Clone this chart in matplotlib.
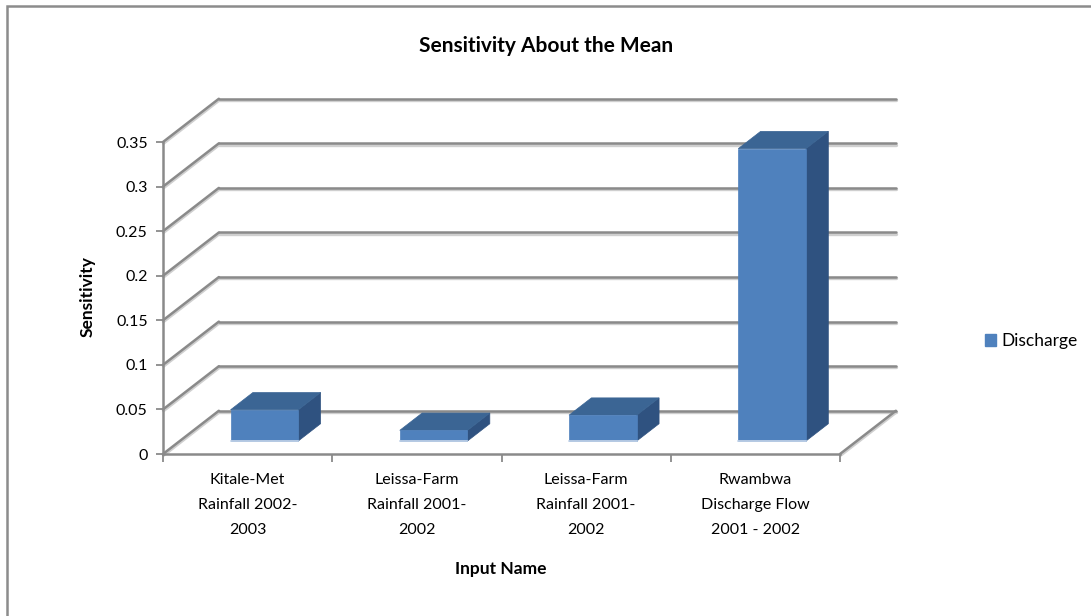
import numpy as np
import matplotlib.pyplot as plt
import matplotlib.transforms as mtransforms
from matplotlib.patches import Polygon, Patch, Rectangle

# chart data
categories = ['Kitale-Met\nRainfall 2002-\n2003',
              'Leissa-Farm\nRainfall 2001-\n2002',
              'Leissa-Farm\nRainfall 2001-\n2002',
              'Rwambwa\nDischarge Flow\n2001 - 2002']
sensitivity = [0.035, 0.012, 0.029, 0.328]
y_ticks = [0, 0.05, 0.1, 0.15, 0.2, 0.25, 0.3, 0.35]
y_tick_labels = ['0', '0.05', '0.1', '0.15', '0.2', '0.25', '0.3', '0.35']
series_name = 'Discharge'

plt.rcParams['font.family'] = ['Lato', 'DejaVu Sans']

W, H = 1091, 616
fig = plt.figure(figsize=(W / 100, H / 100), dpi=100)
ax = fig.add_axes([163 / W, 162 / H, 677 / W, 312 / H])

n = len(categories)
ax.set_xlim(0, n)
ax.set_ylim(0, y_ticks[-1])

# oblique depth of the 3d floor in data units
dx, dy = 0.33, 0.0485
grid_c = '#8a8a8a'
shade_c = '#cfcfcf'
glw = 1.8
shadow = mtransforms.offset_copy(ax.transData, fig=fig, x=0.5, y=-1.2,
                                 units='dots')


def gridline(xs, ys):
    # gray line with a soft light shadow below it
    ax.plot(xs, ys, color=shade_c, lw=glw + 0.6, clip_on=False, zorder=0.9,
            transform=shadow, solid_capstyle='round')
    ax.plot(xs, ys, color=grid_c, lw=glw, clip_on=False, zorder=1,
            solid_capstyle='round')


# back wall + side wall gridlines
for t in y_ticks:
    gridline([dx, n + dx], [t + dy, t + dy])
    gridline([0, dx], [t, t + dy])
# right edge of the floor
gridline([n, n + dx], [0, dy])

# 3d columns: front, top and side faces
front_c, top_c, side_c = '#4f81bd', '#3b6594', '#2f5280'
d0, depth, width = 0.3, 0.4, 0.4
for i, v in enumerate(sensitivity):
    x0 = i + (1 - width) / 2 + d0 * dx
    y0 = d0 * dy
    ddx, ddy = depth * dx, depth * dy
    front = [(x0, y0), (x0 + width, y0), (x0 + width, y0 + v), (x0, y0 + v)]
    top = [(x0, y0 + v), (x0 + width, y0 + v),
           (x0 + width + ddx, y0 + v + ddy), (x0 + ddx, y0 + v + ddy)]
    side = [(x0 + width, y0), (x0 + width + ddx, y0 + ddy),
            (x0 + width + ddx, y0 + v + ddy), (x0 + width, y0 + v)]
    for pts, c in [(side, side_c), (top, top_c), (front, front_c)]:
        ax.add_patch(Polygon(pts, closed=True, fc=c, ec=c, lw=0.5,
                             zorder=3, clip_on=False))
    ax.plot([x0, x0 + width], [y0, y0], color='#c6d6ea', lw=1.2,
            zorder=4, clip_on=False)

# axes styling
for s in ['top', 'right']:
    ax.spines[s].set_visible(False)
for s in ['left', 'bottom']:
    ax.spines[s].set_color(grid_c)
    ax.spines[s].set_linewidth(glw)
ax.set_facecolor('none')

ax.set_yticks(y_ticks)
ax.set_yticklabels(y_tick_labels, fontsize=11.5)
ax.tick_params(axis='y', direction='out', length=5, width=1.3,
               color=grid_c, pad=6)

ax.set_xticks(np.arange(n + 1))
ax.set_xticklabels([])
ax.set_xticks(np.arange(n) + 0.5, minor=True)
ax.set_xticklabels(categories, minor=True, fontsize=11.5, linespacing=2.0)
ax.tick_params(axis='x', which='major', direction='out', length=6,
               width=1.3, color=grid_c)
ax.tick_params(axis='x', which='minor', length=0, pad=14)

fig.text(546 / W, 1 - 46 / H, 'Sensitivity About the Mean',
         ha='center', va='center', fontsize=15, fontweight='bold')
fig.text(88 / W, 1 - 297 / H, 'Sensitivity', rotation=90,
         ha='center', va='center', fontsize=12.5, fontweight='bold')
fig.text(501 / W, 1 - 569 / H, 'Input Name',
         ha='center', va='center', fontsize=12.5, fontweight='bold')

ax.legend(handles=[Patch(fc=front_c, ec=front_c, label=series_name)],
          loc='center left', bbox_to_anchor=(978 / W, 1 - 341 / H),
          bbox_transform=fig.transFigure, frameon=False, fontsize=12.5,
          handlelength=0.65, handleheight=0.65, handletextpad=0.3,
          borderaxespad=0)

# outer chart border (runs off the right and bottom edges)
fig.add_artist(Rectangle((7 / W, -0.1), 1.0, 1 - 6 / H + 0.1,
                         transform=fig.transFigure, fill=False,
                         ec='#8c8c8c', lw=1.8))

fig.savefig('out.png', dpi=100)
